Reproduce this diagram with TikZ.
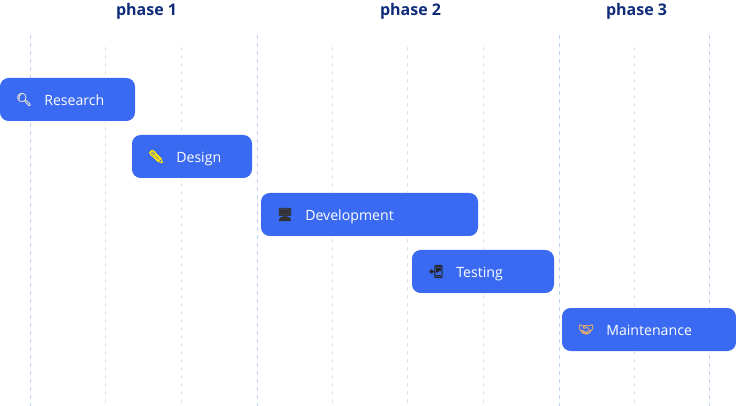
\documentclass[tikz,border=0pt]{standalone}
\usepackage{fontspec}
\setmainfont{Open Sans}
\newfontfamily\emojifont[FakeBold=2.5]{Noto Emoji}
\definecolor{barblue}{HTML}{396AF1}
\definecolor{phasenavy}{HTML}{0F2C7A}
\definecolor{gridblue}{HTML}{BFD0F5}
\definecolor{gridgrey}{HTML}{DFE2EA}
\definecolor{handtan}{HTML}{DDA878}
\begin{document}
\begin{tikzpicture}[x=.75pt,y=-.75pt,
    phaseB/.style={anchor=base, text=phasenavy, inner sep=0, font=\fontsize{12}{14}\selectfont\bfseries},
    barB/.style={fill=barblue, rounded corners=6.5pt, inner sep=0, outer sep=0, minimum height=32.25pt},
    labelB/.style={anchor=base west, text=white, inner sep=0, font=\fontsize{10.6}{12}\selectfont},
    iconB/.style={inner sep=0, font=\fontsize{9.5}{11}\emojifont}]

      \useasboundingbox (0, 0) rectangle (736, 406);

      % dashed grid
      \foreach \x in {30, 257, 559, 709}
        \draw[gridblue, dashed] (\x, 35) -- (\x, 406);
      \foreach \x in {105, 181, 332, 407, 483, 634}
        \draw[gridgrey, dashed] (\x, 47) -- (\x, 406);

      \node[phaseB] (phaseA) at (146.5, 16) {phase 1};
      \node[phaseB] (phaseC) at (410.5, 16) {phase 2};
      \node[phaseB] (phaseD) at (636.5, 16) {phase 3};

      \foreach \name/\xa/\xb/\y/\txt/\ic/\col in {
          research/0/135/99.5/Research/🔍/gray!30,
          design/132/252/156.5/Design/✏/yellow!85!orange,
          development/261/478/214.5/Development/🖥/black!80,
          testing/412/554/271.5/Testing/📲/black!85,
          maintenance/562/736/329.5/Maintenance/🤝/handtan} {
        \pgfmathsetmacro{\barwd}{(\xb-\xa)*.75}
        \node[barB, minimum width=\barwd pt] (\name) at ({(\xa+\xb)/2}, \y) {};
        \node[iconB, text=\col] (\name icon) at ([xshift=18pt]\name.west) {\ic};
        \node[labelB] (\name label) at ([xshift=33pt, yshift=-4.6pt]\name.west) {\txt};
      }
    \end{tikzpicture}
\end{document}
